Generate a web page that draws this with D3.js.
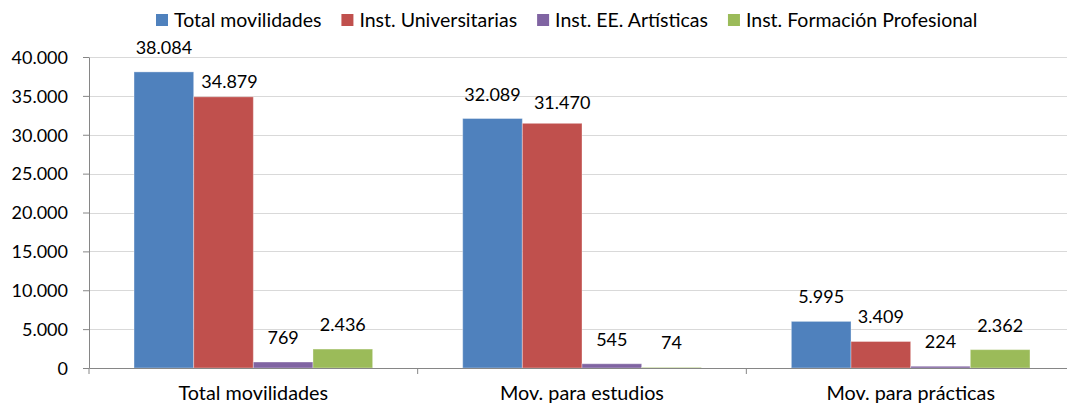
<!DOCTYPE html>
<html lang="es">
<head>
  <meta charset="UTF-8">
  <title>Movilidades</title>
  <script src="https://d3js.org/d3.v7.min.js"></script>
  <style>
    body { margin: 0; background: #fff; }
    svg { font-family: Lato, sans-serif; display: block; }
    .axis path, .axis line { stroke: #868686; }
    .axis text { font-size: 18px; fill: #000; }
    .x-axis text { font-size: 19.8px; }
    .grid line { stroke: #d9d9d9; }
    .value-label { font-size: 18px; fill: #000; }
    .legend text { font-size: 19.5px; fill: #000; }
  </style>
</head>
<body>
  <svg></svg>
  <script>
    const categories = ['Total movilidades', 'Mov. para estudios', 'Mov. para prácticas'];
    const seriesNames = ['Total movilidades', 'Inst. Universitarias', 'Inst. EE. Artísticas', 'Inst. Formación Profesional'];
    const totalValues = [38084, 32089, 5995];
    const univValues = [34879, 31470, 3409];
    const artValues = [769, 545, 224];
    const fpValues = [2436, 74, 2362];
    const yTicks = [0, 5000, 10000, 15000, 20000, 25000, 30000, 35000, 40000];
    const colors = ['#4f81bd', '#c0504d', '#8064a2', '#9bbb59'];

    const seriesValues = [totalValues, univValues, artValues, fpValues];

    // labels that were dragged by hand in the original
    const labelNudge = {
      '1|0': { dx: 6, dy: 9 },
      '1|1': { dx: 10, dy: 4 }
    };

    const W = 1067, H = 407;
    const margin = { top: 57, right: -8, bottom: 39, left: 89 };
    const width = W - margin.left - margin.right;
    const height = H - margin.top - margin.bottom;

    const es = d3.formatLocale({ decimal: ',', thousands: '.', grouping: [3], currency: ['', ' €'] });
    const fmt = es.format(',d');

    const root = d3.select('svg').attr('width', W).attr('height', H);
    const svg = root.append('g').attr('transform', `translate(${margin.left},${margin.top})`);

    const x0 = d3.scaleBand().domain(categories).range([0, width]).padding(0);
    const gap = x0.bandwidth() * 0.137;
    const x1 = d3.scaleBand().domain(d3.range(seriesNames.length))
      .range([gap, x0.bandwidth() - gap]).padding(0);
    const y = d3.scaleLinear().domain([0, 40000]).range([height, 0]);

    svg.append('g').attr('class', 'grid')
      .selectAll('line').data(yTicks.filter(d => d > 0)).enter().append('line')
      .attr('x1', 0).attr('x2', width)
      .attr('y1', d => Math.round(y(d)) + 0.5).attr('y2', d => Math.round(y(d)) + 0.5);

    const rows = categories.map((c, i) => ({ cat: c, vals: seriesValues.map(s => s[i]) }));

    const groups = svg.selectAll('.grp').data(rows).enter().append('g')
      .attr('class', 'grp')
      .attr('transform', d => `translate(${x0(d.cat)},0)`);

    groups.selectAll('rect').data(d => d.vals).enter().append('rect')
      .attr('x', (d, i) => x1(i))
      .attr('y', d => y(d))
      .attr('width', x1.bandwidth())
      .attr('height', d => height - y(d))
      .attr('fill', (d, i) => colors[i])
      .attr('stroke', 'rgba(255,255,255,0.35)')
      .attr('stroke-width', 1);

    groups.each(function(row, ci) {
      d3.select(this).selectAll('.value-label').data(row.vals).enter().append('text')
        .attr('class', 'value-label')
        .attr('text-anchor', 'middle')
        .attr('x', (d, i) => x1(i) + x1.bandwidth() / 2 + ((labelNudge[i + '|' + ci] || {}).dx || 0))
        .attr('y', (d, i) => y(d) - 18 + ((labelNudge[i + '|' + ci] || {}).dy || 0))
        .text(d => fmt(d));
    });

    const yAxis = svg.append('g').attr('class', 'axis')
      .call(d3.axisLeft(y).tickValues(yTicks).tickSize(6).tickPadding(15).tickFormat(fmt).tickSizeOuter(0))
      .attr('font-family', null).attr('font-size', null);
    yAxis.selectAll('text').attr('dy', '0.35em');

    const xAxis = svg.append('g').attr('class', 'axis x-axis')
      .attr('transform', `translate(0,${height})`)
      .call(d3.axisBottom(x0).tickSize(0).tickPadding(0).tickSizeOuter(0))
      .attr('font-family', null).attr('font-size', null);
    xAxis.selectAll('.tick text').attr('dy', null).attr('y', 32);
    xAxis.selectAll('.bnd').data(categories).enter().append('line')
      .attr('class', 'bnd')
      .attr('x1', d => x0(d)).attr('x2', d => x0(d))
      .attr('y1', 0).attr('y2', 6);

    // legend
    const legend = root.append('g').attr('class', 'legend');
    let lx = 156;
    seriesNames.forEach((name, i) => {
      const item = legend.append('g').attr('transform', `translate(${lx},0)`);
      item.append('rect').attr('x', 0).attr('y', 14).attr('width', 12).attr('height', 12).attr('fill', colors[i]);
      const t = item.append('text').attr('x', 18).attr('y', 20).attr('dy', '0.35em').text(name);
      lx += 18 + t.node().getComputedTextLength() + 20;
    });
  </script>
</body>
</html>
